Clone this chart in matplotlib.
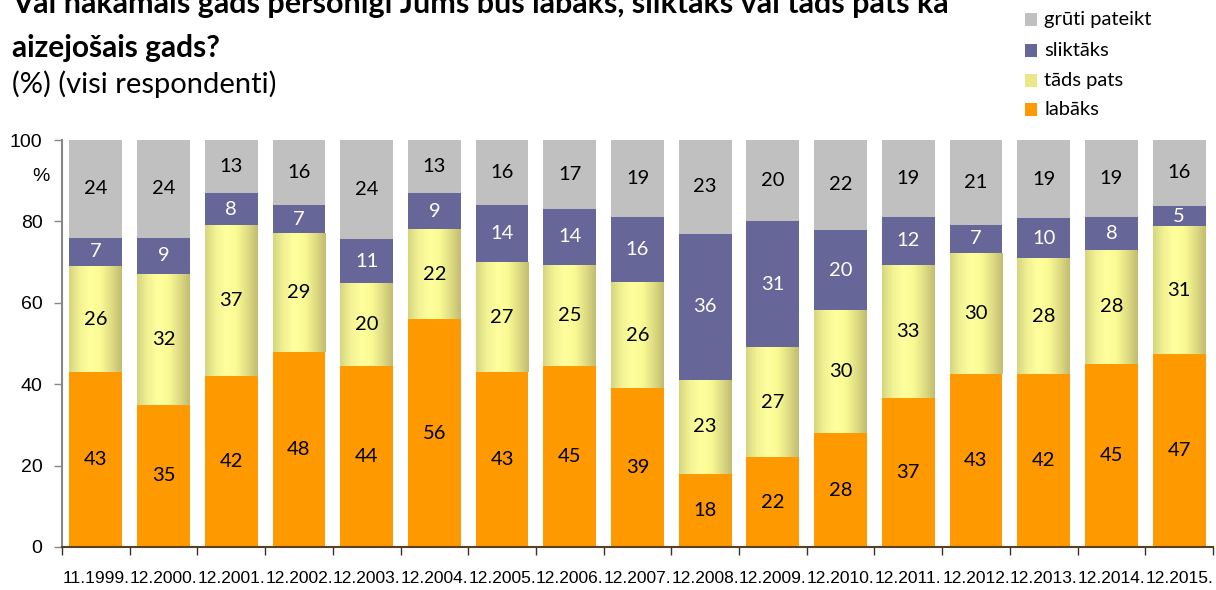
import numpy as np
import matplotlib
matplotlib.use("Agg")
import matplotlib.pyplot as plt
from matplotlib.patches import Rectangle

# dati
periods = ["11.1999.", "12.2000.", "12.2001.", "12.2002.", "12.2003.", "12.2004.",
           "12.2005.", "12.2006.", "12.2007.", "12.2008.", "12.2009.", "12.2010.",
           "12.2011.", "12.2012.", "12.2013.", "12.2014.", "12.2015."]
labaks = [43, 35, 42, 48, 44, 56, 43, 45, 39, 18, 22, 28, 37, 43, 42, 45, 47]
tads_pats = [26, 32, 37, 29, 20, 22, 27, 25, 26, 23, 27, 30, 33, 30, 28, 28, 31]
sliktaks = [7, 9, 8, 7, 11, 9, 14, 14, 16, 36, 31, 20, 12, 7, 10, 8, 5]
gruti = [24, 24, 13, 16, 24, 13, 16, 17, 19, 23, 20, 22, 19, 21, 19, 19, 16]

series_names = ["labāks", "tāds pats", "sliktāks", "grūti pateikt"]
colors = ["#FF9900", "#FFFF99", "#666699", "#C0C0C0"]
text_colors = ["black", "black", "white", "black"]

raw = np.array([labaks, tads_pats, sliktaks, gruti], dtype=float)
# 100% stacked, like the original chart
share = raw / raw.sum(axis=0) * 100

fig = plt.figure(figsize=(12.16, 5.9), dpi=100)
ax = fig.add_axes([0.051, 0.0729, 0.9465, 0.6898])

x = np.arange(len(periods))
width = 0.78
# horizontal gradient for "tāds pats"
grad = np.array([[0.84, 0.84, 0.50], [0.95, 0.95, 0.58], [1.0, 1.0, 0.62],
                 [0.98, 0.98, 0.58], [0.88, 0.87, 0.52], [0.76, 0.74, 0.44]])
t = np.linspace(0, 5, 60)
grad_img = np.array([[np.interp(v, np.arange(6), grad[:, c]) for c in range(3)] for v in t])
grad_img = grad_img[np.newaxis, :, :]

bottom = np.zeros(len(periods))
for i in range(4):
    bars = ax.bar(x, share[i], width, bottom=bottom, color=colors[i], linewidth=0, zorder=2)
    if i == 1:
        for b in bars:
            ax.imshow(grad_img, extent=(b.get_x(), b.get_x() + b.get_width(),
                                        b.get_y(), b.get_y() + b.get_height()),
                      aspect="auto", zorder=2.5, interpolation="bilinear")
    for j in range(len(periods)):
        ax.text(x[j], bottom[j] + share[i][j] / 2, str(int(raw[i][j])),
                ha="center", va="center", fontsize=14.5, family="Lato",
                color=text_colors[i], zorder=3)
    bottom += share[i]

ax.set_xlim(-0.5, len(periods) - 0.5)
ax.set_ylim(0, 100)
ax.set_yticks([0, 20, 40, 60, 80, 100])
ax.set_yticklabels(["0", "20", "40", "60", "80", "100"], family="Liberation Sans", fontsize=14)
ax.set_xticks(x)
ax.set_xticklabels(periods, family="Liberation Sans", fontsize=12.5)
ax.set_xticks(np.arange(len(periods) + 1) - 0.5, minor=True)
ax.tick_params(axis="x", which="major", length=0, pad=17)
ax.tick_params(axis="x", which="minor", length=6, width=1, color="#333333")
ax.tick_params(axis="y", length=6, width=1, color="#888888", pad=8)
for s in ["top", "right"]:
    ax.spines[s].set_visible(False)
ax.spines["left"].set_color("#888888")
ax.spines["left"].set_linewidth(1.5)
ax.spines["bottom"].set_color("#5a4020")
ax.spines["bottom"].set_linewidth(1.5)
ax.text(-0.011, 0.911, "%", transform=ax.transAxes, ha="right", va="center",
        family="Liberation Sans", fontsize=14)

# virsraksts
fig.text(0.01, 0.978, "Vai nākamais gads personīgi Jums būs labāks, sliktāks vai tāds pats kā",
         family="Lato", fontweight="bold", fontsize=22, va="baseline")
fig.text(0.01, 0.903, "aizejošais gads?", family="Lato", fontweight="bold", fontsize=21.5, va="baseline")
fig.text(0.01, 0.843, "(%) (visi respondenti)", family="Lato", fontsize=21, va="baseline")

# leģenda
leg_y = [20, 51, 81, 110]
for k, idx in enumerate([3, 2, 1, 0]):
    yy = 1 - leg_y[k] / 590
    fig.patches.append(Rectangle((1025 / 1216, yy - 6 / 590), 12 / 1216, 13 / 590,
                                 transform=fig.transFigure, color=colors[idx] if idx != 1 else "#E8E88A",
                                 linewidth=0))
    fig.text(1044 / 1216, yy, series_names[idx], family="Lato", fontsize=14.5, va="center")

fig.savefig("out.png", dpi=100)
